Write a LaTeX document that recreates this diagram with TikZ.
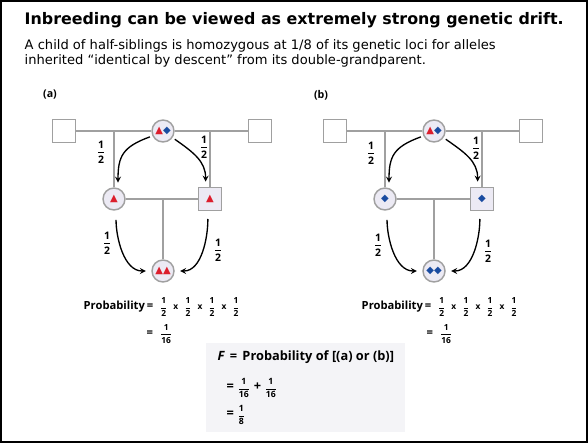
\documentclass[tikz,border=0pt]{standalone}
\usepackage{fontspec}
\setmainfont{DejaVu Sans}
\newfontfamily\labelfont{Open Sans}
\newfontfamily\symfont{DejaVu Sans}
\usepackage{tikz}
\usetikzlibrary{positioning,fit,backgrounds,calc}
\usepackage{xcolor}
\definecolor{pedgray}{RGB}{160,160,160}
\definecolor{pedfill}{RGB}{236,234,244}
\definecolor{allelered}{RGB}{220,30,45}
\definecolor{alleleblue}{RGB}{25,75,160}
\definecolor{boxgray}{RGB}{244,244,247}
\newcommand{\redtri}{\textcolor{allelered}{▲}}
\newcommand{\bluedia}{\textcolor{alleleblue}{◆}}
\newcommand{\pfrac}[2]{$\displaystyle\frac{\mbox{#1}}{\mbox{#2}}$}
\newcommand{\fsmall}{\fontsize{6.3}{7}\selectfont}
\newcommand{\ptimes}{\hspace{4.2pt}x\hspace{4.2pt}}

\begin{document}
\begin{tikzpicture}[
    x=0.75pt, y=0.75pt,
    female/.style={circle, draw=pedgray, fill=pedfill, line width=1.1pt,
                   minimum size=16.5pt, inner sep=0pt, font=\fontsize{7.5}{7.5}\symfont},
    male/.style={rectangle, draw=pedgray, fill=white, line width=1pt,
                 minimum size=17pt, inner sep=0pt, font=\fontsize{7.5}{7.5}\symfont},
    mate/.style={draw=pedgray, line width=1.1pt},
    arrow/.style={->, >=stealth, line width=1pt, shorten <=2pt, shorten >=4pt},
    half/.style={font=\fontsize{7.8}{8}\labelfont\bfseries},
    formula/.style={anchor=west, font=\fontsize{8.4}{9}\labelfont\bfseries},
    fbox/.style={rectangle, fill=boxgray, inner xsep=5pt, inner ysep=2pt}
]
\useasboundingbox (0,0) rectangle (588,-445);
\draw[line width=1.2pt] (0.8,-0.8) rectangle (587.2,-442);

% Title
\node[anchor=base west, font=\bfseries\fontsize{11.9}{14}\selectfont] (title) at (20,-25)
    {Inbreeding can be viewed as extremely strong genetic drift.};
\node[anchor=base west, font=\fontsize{9.8}{11}\selectfont] (intro1) at (20,-50)
    {A child of half-siblings is homozygous at 1/8 of its genetic loci for alleles};
\node[anchor=base west, font=\fontsize{9.8}{11}\selectfont] (intro2) at (20,-65)
    {inherited “identical by descent” from its double-grandparent.};

% Pedigree (a)
\node[font=\fontsize{8}{9}\labelfont\bfseries] (alabel) at (50,-95) {(a)};
\node[male] (a-gpL) at (64,-131) {};
\node[female] (a-gp) at (163,-131) {\redtri\bluedia};
\node[male] (a-gpR) at (260,-131) {};
\node[female] (a-kidL) at (114,-199) {\redtri};
\node[male, fill=pedfill] (a-kidR) at (210,-199) {\redtri};
\node[female] (a-child) at (163,-271) {\redtri\redtri};

\draw[mate] (a-gpL) -- (a-gp) -- (a-gpR);
\draw[mate] (a-kidL) -- (a-kidL |- a-gp);
\draw[mate] (a-kidR) -- (a-kidR |- a-gp);
\draw[mate] (a-kidL) -- (a-kidR);
\draw[mate] (a-child) -- (a-child |- a-kidL);

\draw[arrow] (a-gp.205) to[out=200, in=90, looseness=1.3] (a-kidL.70);
\draw[arrow] (a-gp.325) to[out=-35, in=90, looseness=1.1] (a-kidR.110);
\draw[arrow, shorten <=7pt] (a-kidL.-80) to[out=-90, in=180] (a-child.west);
\draw[arrow, shorten <=6pt] (a-kidR.-100) to[out=-90, in=0] (a-child.east);

\node[half] (a-h1) at (101,-152) {\pfrac{1}{2}};
\node[half] (a-h2) at (204,-147) {\pfrac{1}{2}};
\node[half] (a-h3) at (107,-243) {\pfrac{1}{2}};
\node[half] (a-h4) at (218,-250) {\pfrac{1}{2}};

% Pedigree (b)
\node[font=\fontsize{8}{9}\labelfont\bfseries] (blabel) at (321,-95) {(b)};
\node[male] (b-gpL) at (335,-131) {};
\node[female] (b-gp) at (434,-131) {\redtri\bluedia};
\node[male] (b-gpR) at (531,-131) {};
\node[female] (b-kidL) at (385,-199) {\bluedia};
\node[male, fill=pedfill] (b-kidR) at (482,-199) {\bluedia};
\node[female] (b-child) at (434,-271) {\bluedia\bluedia};

\draw[mate] (b-gpL) -- (b-gp) -- (b-gpR);
\draw[mate] (b-kidL) -- (b-kidL |- b-gp);
\draw[mate] (b-kidR) -- (b-kidR |- b-gp);
\draw[mate] (b-kidL) -- (b-kidR);
\draw[mate] (b-child) -- (b-child |- b-kidL);

\draw[arrow] (b-gp.205) to[out=200, in=90, looseness=1.3] (b-kidL.70);
\draw[arrow] (b-gp.325) to[out=-35, in=90, looseness=1.1] (b-kidR.110);
\draw[arrow, shorten <=7pt] (b-kidL.-80) to[out=-90, in=180] (b-child.west);
\draw[arrow, shorten <=6pt] (b-kidR.-100) to[out=-90, in=0] (b-child.east);

\node[half] (b-h1) at (371,-153) {\pfrac{1}{2}};
\node[half] (b-h2) at (476,-148) {\pfrac{1}{2}};
\node[half] (b-h3) at (378,-245) {\pfrac{1}{2}};
\node[half] (b-h4) at (488,-251) {\pfrac{1}{2}};

% Probabilities
\node[formula] (aprob) at (79,-307)
    {Probability\,=\hspace{5pt}{\fsmall\pfrac{1}{2}\ptimes\pfrac{1}{2}\ptimes\pfrac{1}{2}\ptimes\pfrac{1}{2}}};
\node[formula] (aeq) at (142,-334) {=\hspace{5pt}{\fsmall\pfrac{1}{16}}};
\node[formula] (bprob) at (357,-307)
    {Probability\,=\hspace{5pt}{\fsmall\pfrac{1}{2}\ptimes\pfrac{1}{2}\ptimes\pfrac{1}{2}\ptimes\pfrac{1}{2}}};
\node[formula] (beq) at (422,-334) {=\hspace{5pt}{\fsmall\pfrac{1}{16}}};

% F
\node[formula, font=\fontsize{9.6}{11}\labelfont\bfseries] (ftitle) at (213,-357)
    {{\itshape F}\hspace{4pt}=\hspace{4pt}Probability of [(a) or (b)]};
\node[formula, font=\fontsize{9.6}{11}\labelfont\bfseries] (fsum) at (222,-388)
    {= {\fontsize{6.5}{7}\selectfont\pfrac{1}{16}} + {\fontsize{6.5}{7}\selectfont\pfrac{1}{16}}};
\node[formula, font=\fontsize{9.6}{11}\labelfont\bfseries] (fres) at (222,-415)
    {= {\fontsize{6.5}{7}\selectfont\pfrac{1}{8}}};
\begin{scope}[on background layer]
\node[fbox, fit=(ftitle)(fsum)(fres)] (fpanel) {};
\end{scope}

\end{tikzpicture}
\end{document}
